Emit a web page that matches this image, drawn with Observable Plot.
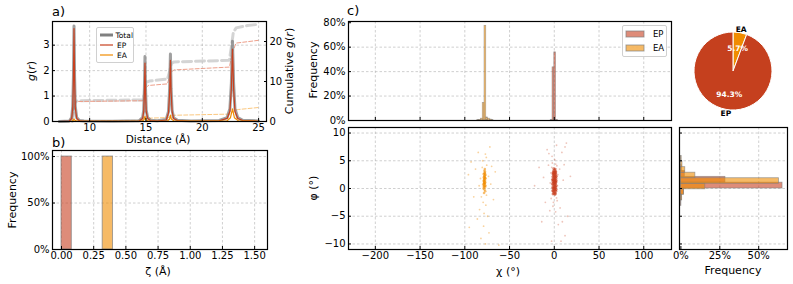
<!DOCTYPE html>
<html><head><meta charset="utf-8">
<script src="https://cdn.jsdelivr.net/npm/d3@7"></script>
<script src="https://cdn.jsdelivr.net/npm/@observablehq/plot@0.6"></script>
<style>
body{margin:0;background:#fff;}
#root{position:relative;width:793px;height:284px;overflow:hidden;font-family:"DejaVu Sans",sans-serif;background:#fff;color:#000;}
.t{position:absolute;white-space:nowrap;line-height:1;}
.c{transform:translate(-50%,-50%);}
.r{transform:translate(-50%,-50%) rotate(-90deg);}
.leg{position:absolute;border:1px solid #d0d0d0;border-radius:2px;background:rgba(255,255,255,0.85);font-size:7.5px;}
.leg div{display:flex;align-items:center;height:10px;}
</style></head><body><div id="root"></div>
<script>
// ---------------- DATA ----------------
// panel a: g(r) curves [distance, g]
const totalG = [[7.3,0],[8.2,0.02],[8.4,0.15],[8.5,0.6],[8.56,1.8],[8.61,3.75],[8.66,1.8],[8.72,0.6],[8.85,0.15],[9.1,0.04],[9.5,0.02],[12,0.01],[14.4,0.03],[14.7,0.15],[14.8,0.45],[14.86,1.3],[14.91,2.55],[14.96,1.3],[15.02,0.45],[15.15,0.15],[15.4,0.05],[16,0.03],[16.8,0.08],[17.0,0.4],[17.1,1.3],[17.17,2.65],[17.23,1.3],[17.32,0.45],[17.45,0.15],[17.8,0.05],[19,0.02],[21.5,0.04],[22.2,0.15],[22.45,0.5],[22.58,1.5],[22.68,3.15],[22.78,1.5],[22.9,0.5],[23.15,0.15],[23.6,0.05],[25,0.02]];
const epG = [[7.3,0],[8.2,0.02],[8.4,0.12],[8.5,0.55],[8.56,1.7],[8.61,3.65],[8.66,1.7],[8.72,0.55],[8.85,0.12],[9.1,0.03],[9.5,0.01],[12,0.01],[14.4,0.02],[14.7,0.12],[14.8,0.4],[14.86,1.15],[14.91,2.3],[14.96,1.15],[15.02,0.4],[15.15,0.12],[15.4,0.04],[16,0.02],[16.8,0.06],[17.0,0.35],[17.1,1.15],[17.17,2.4],[17.23,1.15],[17.32,0.4],[17.45,0.12],[17.8,0.04],[19,0.01],[21.5,0.03],[22.2,0.12],[22.45,0.4],[22.58,1.3],[22.68,2.85],[22.78,1.3],[22.9,0.4],[23.15,0.12],[23.6,0.04],[25,0.01]];
const eaG = [[7.3,0],[8.4,0.01],[8.55,0.05],[8.61,0.1],[8.68,0.05],[8.9,0.01],[14.6,0.01],[14.8,0.06],[14.91,0.2],[15.0,0.06],[15.3,0.01],[16.9,0.02],[17.1,0.1],[17.17,0.25],[17.25,0.1],[17.5,0.02],[22.2,0.03],[22.5,0.15],[22.68,0.5],[22.85,0.15],[23.2,0.03],[25,0.01]];
// panel a: cumulative g(r)
const totalCum = [[7.3,0],[8.45,0],[8.55,1.5],[8.62,4],[8.72,5.0],[9,5.2],[14.8,5.4],[14.9,7.5],[15.0,9.8],[15.3,10.1],[16.9,10.6],[17.1,12.5],[17.25,14.5],[17.5,14.9],[22.4,15.3],[22.6,19],[22.75,22.2],[23.0,23.4],[24,24.0],[25,24.3]];
const epCum = [[7.3,0],[8.45,0],[8.6,3.5],[8.75,4.9],[9,5.0],[14.8,5.2],[14.95,8.3],[15.2,9.0],[16.9,9.4],[17.2,12.3],[17.5,12.9],[22.4,13.6],[22.7,17.5],[23.0,19.6],[25,20.3]];
const eaCum = [[7.3,0],[8.5,0],[8.7,0.15],[14.8,0.3],[15.0,0.8],[17.0,1.0],[17.3,1.55],[22.5,1.85],[22.8,2.7],[23.2,3.0],[25,3.5]];
// panel b: zeta histogram [x0, x1, freq]
const zetaEP = [[0,0.08,1.0]];
const zetaEA = [[0.32,0.40,1.0]];
// panel c top: chi histogram [x0, freq]
const chiEP = [[-4,0.003],[-2,0.435],[0,0.558],[2,0.004]];
const chiEA = [[-86,0.003],[-84,0.005],[-82,0.015],[-80,0.144],[-78,0.775],[-76,0.025],[-74,0.015],[-72,0.008],[-70,0.003]];
const chiBinWidth = 2;
// panel c scatter [chi, phi] : dense cores and sparse outliers
const scatterEPCore = [[-1.5,-1.0],[0.5,-0.8],[1.8,-0.5],[-0.8,-0.3],[0.2,-0.1],[1.2,0.0],[-1.9,0.2],[-0.3,0.3],[0.9,0.4],[2.1,0.5],[-1.1,0.6],[0.4,0.7],[1.5,0.8],[-0.6,0.9],[0.0,1.0],[1.9,1.1],[-1.7,1.2],[0.7,1.3],[-0.2,1.4],[1.1,1.5],[-1.3,1.6],[0.3,1.7],[2.0,1.8],[-0.7,1.9],[0.8,2.0],[-1.8,2.1],[0.1,2.2],[1.4,2.3],[-0.9,2.4],[0.6,2.5],[1.8,2.6],[-0.4,2.7],[1.0,2.8],[-1.4,2.9],[0.2,3.0],[1.6,3.1],[-0.8,3.2],[0.5,3.3],[-1.2,-0.6],[1.4,-0.9],[-0.1,-0.5],[0.9,1.0],[-0.5,0.1],[1.3,2.0],[-1.0,1.1],[0.4,2.9],[-0.3,2.1],[1.7,0.2],[-1.6,2.6],[0.0,0.6],
 [-1.2,0.0],[1.0,-0.3],[2.3,1.4],[-2.2,1.6],[0.6,1.6],[-0.4,-0.9],[1.6,2.9],[-1.0,2.8],[2.4,2.2],[-2.3,0.8],[0.2,0.1],[1.1,3.5],[-0.6,3.6],[0.8,-1.1],[-1.9,-0.4],[2.2,-0.2],[0.3,1.2],[-0.9,1.5],[1.5,1.2],[-0.1,2.5]];
const scatterEPOut = [[-2.8,3.8],[2.9,4.1],[-3.5,-1.8],[3.2,-2.2],[-2.2,4.6],[1.5,4.4],[-1.0,-2.5],[2.5,-1.7],[-4.5,1.0],[4.0,2.5],[0.5,5.2],[-1.5,-3.2],[3.5,0.5],[-3.8,2.8],[6.0,3.5],[-6.5,4.2],[8.5,6.5],[12,7.5],[13.5,8.2],[-8,7.0],[10,1.5],[-12,2.0],[-17,3.8],[6.5,-3.5],[-5,-4.0],[9,-6.0],[12,-8.5],[-3,-9.5],[15,-5.0],[-10,-2.5],[4.5,-6.5],[1.5,-4.2],[-2.5,5.8],[-22,0.5],[18,2.2],[7.5,-9.5],[-6,6.3],[2.5,7.8],[-14,-6.0],[11,4.3]];
const scatterEACore = [[-78.5,-0.8],[-77.2,-0.5],[-78.0,-0.2],[-79.1,0.0],[-77.5,0.2],[-78.3,0.4],[-76.8,0.5],[-79.4,0.7],[-77.9,0.8],[-78.6,1.0],[-77.1,1.1],[-78.1,1.3],[-79.0,1.4],[-77.6,1.5],[-78.4,1.7],[-76.9,1.8],[-78.8,2.0],[-77.7,2.1],[-78.2,2.3],[-77.0,2.5],[-78.9,2.6],[-77.8,2.8],[-77.4,3.0],[-78.1,3.2],[-77.6,3.5],[-78.0,0.6],[-77.3,1.9],[-78.7,0.3],[-77.9,2.7],[-78.5,1.2],[-78.2,1.6],[-77.7,1.0],[-78.0,2.0],[-77.5,2.4],[-78.3,0.9]];
const scatterEAOut = [[-80.5,3.8],[-75.5,4.2],[-81.5,-1.5],[-75.8,-1.2],[-79.5,-2.5],[-76.5,-3.0],[-82.5,1.8],[-73.5,2.2],[-80.0,5.0],[-77.0,6.2],[-76.0,5.6],[-83.5,-3.8],[-78.5,-4.5],[-79.0,-6.8],[-74.5,-5.0],[-93,4.8],[-96,2.5],[-88,3.5],[-70,4.0],[-66,3.0],[-85,6.5],[-72,7.5],[-90,-1.5],[-68,-2.0],[-86,-5.5],[-82,-9.0],[-77,-10.0],[-62,-10.2],[-95,-7.0],[-73,-8.0],[-84,0.5],[-71,0.8]];
// panel c right: phi histogram [y0, y1, freq]
const phiEP = [[-3.15,-2.1,0.003],[-2.1,-1.05,0.007],[-1.05,0,0.02],[0,1.05,0.653],[1.05,2.1,0.286],[2.1,3.15,0.025],[3.15,4.2,0.006]];
const phiEA = [[-2.15,-1.15,0.008],[-1.15,-0.15,0.02],[-0.15,0.85,0.157],[0.85,1.85,0.63],[1.85,2.85,0.093],[2.85,3.85,0.028],[3.85,4.85,0.01],[4.85,5.85,0.005]];
// pie
const pieLabels = ["EA","EP"];
const pieShares = [5.7, 94.3];
// tick values
const aXTicks = [10,15,20,25], aYTicks = [0,1,2,3], aY2Ticks = [0,10,20];
const bXTicks = [0,0.25,0.5,0.75,1.0,1.25,1.5], bYTicks = [0,0.5,1.0];
const cXTicks = [-200,-150,-100,-50,0,50,100], cYTopTicks = [0,0.2,0.4,0.6,0.8], cYTicks = [-10,-5,0,5,10];
const rXTicks = [0,0.25,0.5];

// ---------------- STYLE ----------------
const C_EP = "#c8401f", C_EA = "#f08c00", C_TOT = "#808080";
const F_EP = "#c8401f", F_EA = "#f08c00";
const root = document.getElementById("root");
const STYLE = {background:"transparent", fontFamily:"DejaVu Sans", fontSize:"10px", color:"#000", overflow:"visible"};
const grid = {stroke:"#b4b4b4", strokeOpacity:0.9, strokeWidth:0.7, strokeDasharray:"2.5,2"};
const frame = () => Plot.frame({stroke:"#000", strokeWidth:1.2});
const pct = d3.format(".0%");
function place(node, left, top){const d=document.createElement("div");d.style.position="absolute";d.style.left=left+"px";d.style.top=top+"px";d.appendChild(node);root.appendChild(d);}
function text(html, x, y, cls, size){const d=document.createElement("div");d.className="t "+cls;d.style.left=x+"px";d.style.top=y+"px";d.style.fontSize=size+"px";d.innerHTML=html;root.appendChild(d);}

// ---------------- PANEL a ----------------
const aDims = {width:300,height:135,marginLeft:52,marginRight:34,marginTop:21,marginBottom:14};
place(Plot.plot({...aDims, style:STYLE,
  x:{domain:[6.7,25.7],axis:null}, y:{domain:[0,25]},
  marks:[
    Plot.line(totalCum,{x:d=>d[0],y:d=>d[1],stroke:"#cccccc",strokeWidth:3,strokeOpacity:0.85,strokeDasharray:"9,4"}),
    Plot.line(epCum,{x:d=>d[0],y:d=>d[1],stroke:"#ee9f8a",strokeWidth:1,strokeDasharray:"4,2"}),
    Plot.line(eaCum,{x:d=>d[0],y:d=>d[1],stroke:"#fbc880",strokeWidth:1,strokeDasharray:"4,2"}),
    Plot.axisY(aY2Ticks,{anchor:"right",tickSize:-3,tickPadding:6,label:null})
  ]}), 0, 0);
place(Plot.plot({...aDims, style:STYLE,
  x:{domain:[6.7,25.7]}, y:{domain:[0,3.93]},
  marks:[
    Plot.gridX(aXTicks,grid), Plot.gridY(aYTicks.slice(1),grid),
    Plot.line(totalG,{x:d=>d[0],y:d=>d[1],stroke:C_TOT,strokeWidth:3,strokeOpacity:0.75}),
    Plot.line(epG,{x:d=>d[0],y:d=>d[1],stroke:C_EP,strokeWidth:1.2}),
    Plot.line(eaG,{x:d=>d[0],y:d=>d[1],stroke:C_EA,strokeWidth:1.2}),
    Plot.axisX(aXTicks,{tickSize:-3,tickPadding:5,label:null}),
    Plot.axisY(aYTicks,{tickSize:-3,tickPadding:6,label:null}),
    frame()
  ]}), 0, 0);
text("a)",52,5,"",13);
text("<i>g</i>(<i>r</i>)",31,71,"r",11);
text("Cumulative <i>g</i>(<i>r</i>)",289,71,"r",11);
text("Distance (Å)",158,139,"c",10.5);
// legend a
(function(){const L=document.createElement("div");L.className="leg";L.style.left="96px";L.style.top="27px";L.style.width="36px";L.style.padding="2px 0";
 const items=[["Total",C_TOT,3],["EP",C_EP,1.2],["EA",C_EA,1.2]];
 L.innerHTML=items.map(([n,c,w])=>`<div><svg width="16" height="6" style="margin:0 2px 0 2px"><line x1="1" x2="14" y1="3" y2="3" stroke="${c}" stroke-width="${w}"/></svg>${n}</div>`).join("");
 root.appendChild(L);})();

// ---------------- PANEL b ----------------
place(Plot.plot({width:300,height:130,marginLeft:52,marginRight:33,marginTop:15,marginBottom:16,style:STYLE,
  x:{domain:[-0.07,1.6]}, y:{domain:[0,1.065]},
  marks:[
    Plot.gridX(bXTicks,grid), Plot.gridY(bYTicks.slice(1),grid),
    Plot.rect(zetaEP,{x1:d=>d[0],x2:d=>d[1],y1:0,y2:d=>d[2],fill:F_EP,fillOpacity:0.6,stroke:"#808080",strokeOpacity:0.7,strokeWidth:1}),
    Plot.rect(zetaEA,{x1:d=>d[0],x2:d=>d[1],y1:0,y2:d=>d[2],fill:F_EA,fillOpacity:0.6,stroke:"#808080",strokeOpacity:0.7,strokeWidth:1}),
    Plot.axisX(bXTicks,{tickSize:-3,tickPadding:5,tickFormat:d3.format(".2f"),label:null}),
    Plot.axisY(bYTicks,{tickSize:-3,tickPadding:6,tickFormat:pct,label:null}),
    frame()
  ]}), 0, 135);
text("b)",52,136,"",13);
text("Frequency",12,200,"r",11);
text("ζ (Å)",158,271,"c",11);

// ---------------- PANEL c top ----------------
const cX = {domain:[-230,131]};
place(Plot.plot({width:380,height:124,marginLeft:48,marginRight:9,marginTop:21,marginBottom:4,style:STYLE,
  x:cX, y:{domain:[0,0.81]},
  marks:[
    Plot.gridX(cXTicks,grid), Plot.gridY(cYTopTicks.slice(1,-1),grid),
    Plot.rect(chiEP,{x1:d=>d[0],x2:d=>d[0]+chiBinWidth,y1:0,y2:d=>d[1],fill:F_EP,fillOpacity:0.6,stroke:"#808080",strokeOpacity:0.7,strokeWidth:0.6}),
    Plot.rect(chiEA,{x1:d=>d[0],x2:d=>d[0]+chiBinWidth,y1:0,y2:d=>d[1],fill:F_EA,fillOpacity:0.6,stroke:"#808080",strokeOpacity:0.7,strokeWidth:0.6}),
    Plot.axisX(cXTicks,{tickSize:-3,tickFormat:()=>"",label:null}),
    Plot.axisY(cYTopTicks,{tickSize:-3,tickPadding:6,tickFormat:pct,label:null}),
    frame()
  ]}), 300, 0);
text("c)",347,4,"",13);
text("Frequency",313,70,"r",11);
// legend c
(function(){const L=document.createElement("div");L.className="leg";L.style.left="622px";L.style.top="25px";L.style.width="43px";L.style.height="28px";L.style.fontSize="8.5px";L.style.padding="1px 0";
 const items=[["EP",F_EP],["EA",F_EA]];
 L.innerHTML=items.map(([n,c])=>`<div style="height:14px"><svg width="24" height="8" style="margin:0 4px 0 2px"><rect x="1" y="1" width="18" height="6" fill="${c}" fill-opacity="0.6" stroke="#808080" stroke-opacity="0.7"/></svg>${n}</div>`).join("");
 root.appendChild(L);})();

// ---------------- PANEL c scatter ----------------
place(Plot.plot({width:380,height:150,marginLeft:48,marginRight:9,marginTop:7,marginBottom:21,style:STYLE,
  x:cX, y:{domain:[-11,11]},
  marks:[
    Plot.gridX(cXTicks,grid), Plot.gridY(cYTicks,grid),
    Plot.dot(scatterEAOut,{x:d=>d[0],y:d=>d[1],r:0.9,fill:C_EA,fillOpacity:0.38,stroke:null}),
    Plot.dot(scatterEPOut,{x:d=>d[0],y:d=>d[1],r:0.9,fill:C_EP,fillOpacity:0.3,stroke:null}),
    Plot.dot(scatterEACore,{x:d=>d[0],y:d=>d[1],r:1.3,fill:C_EA,fillOpacity:0.55,stroke:null}),
    Plot.dot(scatterEPCore,{x:d=>d[0],y:d=>d[1],r:1.4,fill:C_EP,fillOpacity:0.6,stroke:null}),
    Plot.axisX(cXTicks,{tickSize:-3,tickPadding:5,label:null}),
    Plot.axisY(cYTicks,{tickSize:-3,tickPadding:6,label:null}),
    frame()
  ]}), 300, 120);
text("φ (°)",313,188,"r",11);
text("χ (°)",508,271,"c",11);

// ---------------- PANEL c right hist ----------------
place(Plot.plot({width:133,height:150,marginLeft:19,marginRight:6,marginTop:7,marginBottom:21,style:STYLE,
  x:{domain:[-0.009,0.685]}, y:{domain:[-11,11]},
  marks:[
    Plot.gridX(rXTicks.slice(1),grid), Plot.gridY(cYTicks,grid),
    Plot.rect(phiEP,{y1:d=>d[0],y2:d=>d[1],x1:0,x2:d=>d[2],fill:F_EP,fillOpacity:0.6,stroke:"#808080",strokeOpacity:0.7,strokeWidth:0.8}),
    Plot.rect(phiEA,{y1:d=>d[0],y2:d=>d[1],x1:0,x2:d=>d[2],fill:F_EA,fillOpacity:0.6,stroke:"#808080",strokeOpacity:0.7,strokeWidth:0.8}),
    Plot.axisX(rXTicks,{tickSize:-3,tickPadding:5,tickFormat:pct,label:null}),
    Plot.axisY(cYTicks,{tickSize:-3,tickFormat:()=>"",label:null}),
    frame()
  ]}), 660, 120);
text("Frequency",733,270,"c",11);

// ---------------- PIE ----------------
const pieArcs = d3.pie().sort(null).value(d=>d)(pieShares);
const pieInner = pieArcs.map((a,i)=>{const m=(a.startAngle+a.endAngle)/2;return {x:0.6*Math.sin(m),y:0.6*Math.cos(m),t:pieShares[i].toFixed(1)+"%"};});
const pieOuter = pieArcs.map((a,i)=>{const m=(a.startAngle+a.endAngle)/2;return {x:1.1*Math.sin(m),y:1.1*Math.cos(m),t:pieLabels[i]};});
const pieColors = [C_EA, "#c5401e"];
function pieMark(index, scales){
  const cx=scales.x(0), cy=scales.y(0), r=scales.x(1)-scales.x(0);
  const g=d3.create("svg:g").attr("transform",`translate(${cx},${cy})`);
  const arc=d3.arc().innerRadius(0).outerRadius(r);
  g.selectAll("path").data(pieArcs).join("path").attr("d",arc).attr("fill",(d,i)=>pieColors[i]).attr("stroke","#fff").attr("stroke-width",1);
  return g.node();
}
place(Plot.plot({width:112,height:130,margin:0,style:STYLE,
  x:{domain:[-112/78,112/78],axis:null}, y:{domain:[-130/78,130/78],axis:null},
  marks:[
    pieMark,
    Plot.text(pieInner,{x:"x",y:"y",text:"t",fill:"#fff",fontSize:7.5,fontWeight:"bold"}),
    Plot.text(pieOuter,{x:"x",y:"y",text:"t",fill:"#000",fontSize:7.5,fontWeight:"bold",textAnchor:d=>d.x>0?"start":"end"})
  ]}), 677, 6);
</script></body></html>
